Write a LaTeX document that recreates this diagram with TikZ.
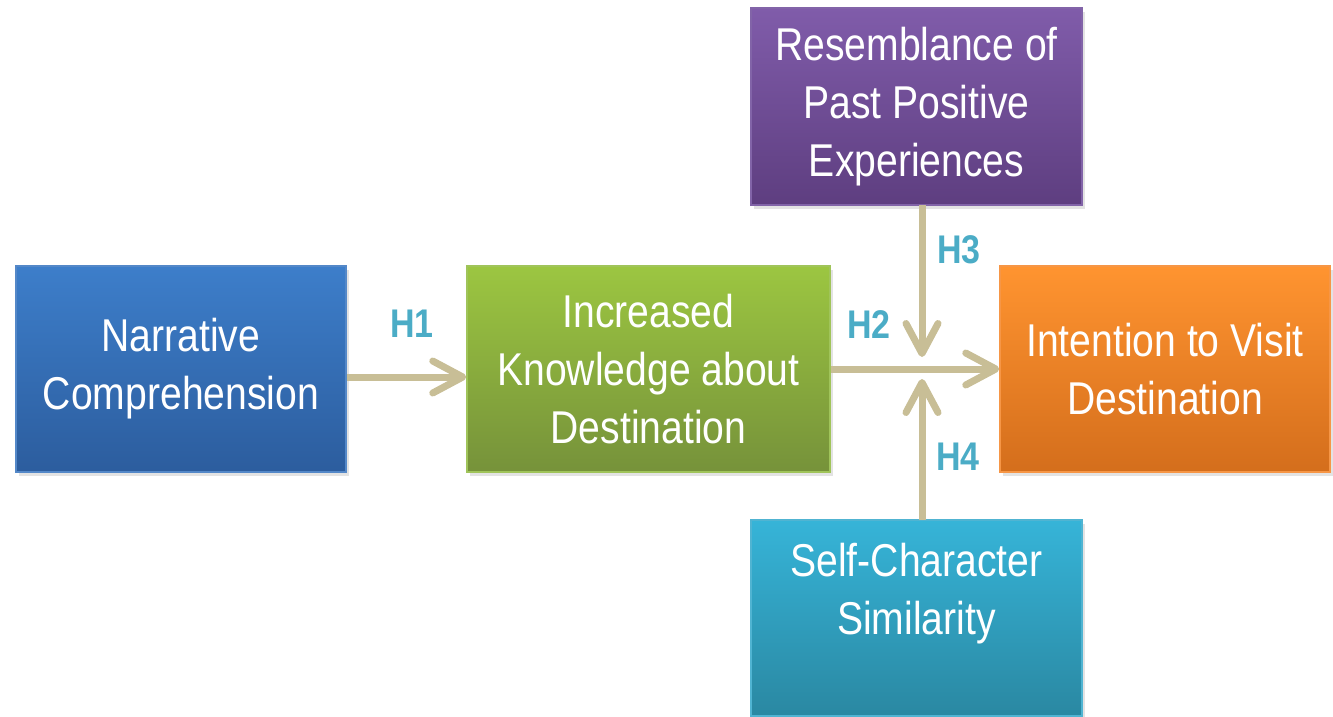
\documentclass[tikz,border=0pt]{standalone}
\usepackage{fontspec}
\setmainfont[FakeStretch=0.85]{Liberation Sans}
\usetikzlibrary{arrows.meta,shadows}

\definecolor{linktan}{HTML}{C8BE96}
\definecolor{hlabel}{HTML}{4BACC6}

\tikzset{
  box/.style={rectangle, inner sep=0pt, align=center, text=white,
    font=\fontsize{46}{58}\selectfont, line width=1.5pt,
    drop shadow={shadow xshift=3pt, shadow yshift=-4pt, opacity=0.22}},
  bluebox/.style={box, top color={rgb,255:red,61;green,126;blue,202}, bottom color={rgb,255:red,44;green,93;blue,158}, draw={rgb,255:red,84;green,136;blue,200}},
  greenbox/.style={box, top color={rgb,255:red,156;green,198;blue,65}, bottom color={rgb,255:red,118;green,146;blue,58}, draw={rgb,255:red,160;green,196;blue,90}},
  orangebox/.style={box, top color={rgb,255:red,255;green,148;blue,48}, bottom color={rgb,255:red,212;green,110;blue,28}, draw={rgb,255:red,246;green,150;blue,70}},
  purplebox/.style={box, top color={rgb,255:red,128;green,92;blue,170}, bottom color={rgb,255:red,94;green,62;blue,128}, draw={rgb,255:red,130;green,100;blue,168}},
  cyanbox/.style={box, top color={rgb,255:red,54;green,180;blue,216}, bottom color={rgb,255:red,42;green,136;blue,162}, draw={rgb,255:red,80;green,180;blue,210}},
  link/.style={draw=linktan, line width=7pt,
    -{Straight Barb[round, length=30pt, width=32pt]}},
  hyp/.style={text=hlabel, font=\fontsize{40}{40}\selectfont\bfseries}
}

\begin{document}
\begin{tikzpicture}[x=1pt, y=-1pt]
  \useasboundingbox (0,0) rectangle (1333,717);
  \clip (0,0) rectangle (1333,717);

  % construct boxes
  \node[bluebox, minimum width=330pt, minimum height=206pt] (narr) at (181,369)
    {Narrative\\Comprehension};
  \node[greenbox, minimum width=363pt, minimum height=206pt] (know) at (648.5,369)
    {Increased\\Knowledge about\\Destination};
  \node[orangebox, minimum width=330pt, minimum height=206pt] (visit) at (1165,369)
    {Intention to Visit\\Destination};
  \node[purplebox, minimum width=331pt, minimum height=197pt] (past) at (916.5,106.5)
    {Resemblance of\\Past Positive\\Experiences};
  \node[cyanbox, minimum width=331pt, minimum height=196pt] (self) at (916.5,618)
    {Self-Character\\Similarity\\\mbox{}};

  % meeting point of the moderating paths
  \coordinate (h3end) at (922,357);
  \coordinate (h4end) at (922,379);

  % hypothesised paths
  \draw[link] ([yshift=-8pt]narr.east) -- ([yshift=-8pt]know.west);
  \draw[link] (know.east) -- (visit.west);
  \draw[link, shorten <=-1pt] (past.south -| h3end) -- (h3end);
  \draw[link, shorten <=-1pt] (self.north -| h4end) -- (h4end);

  % path labels
  \node[hyp] (h1) at (412,324) {H1};
  \node[hyp] (h2) at (869,325) {H2};
  \node[hyp] (h3) at (959,250) {H3};
  \node[hyp] (h4) at (958,457) {H4};
\end{tikzpicture}
\end{document}
